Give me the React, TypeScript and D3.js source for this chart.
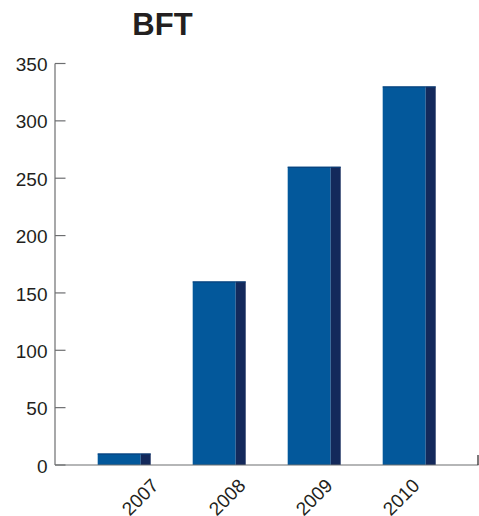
import React from "react";
import * as d3 from "d3";

const years = ["2007", "2008", "2009", "2010"];
const values = [10, 160, 260, 330];
const yTicks = [0, 50, 100, 150, 200, 250, 300, 350];
const title = "BFT";

const W = 479;
const H = 516;
const FONT = "'Liberation Sans', Arial, Helvetica, sans-serif";
const FRONT = "#03589b";
const SIDE = "#13295b";
const AXIS = "#6d6e70";
const TEXT = "#231f20";

export default function App() {
  const y = d3.scaleLinear().domain([0, 350]).range([465, 63.5]);
  const x = d3
    .scaleBand<string>()
    .domain(years)
    .range([76.7, 456.7])
    .paddingInner(0.442)
    .paddingOuter(0.221);
  const labelX = d3.scalePoint<string>().domain(years).range([140, 401]);
  const bw = x.bandwidth();
  const sideW = 10;
  const frontW = bw - sideW;

  return (
    <svg
      width={W}
      height={H}
      style={{ position: "absolute", left: 0, top: 0, background: "#fff" }}
      fontFamily={FONT}
    >
      <text
        x={162.5}
        y={35}
        textAnchor="middle"
        fontSize={31}
        fontWeight="bold"
        fill={TEXT}
      >
        {title}
      </text>

      {/* bars: front face plus darker side face */}
      {years.map((yr, i) => {
        const x0 = x(yr)!;
        const top = y(values[i]);
        const bottom = y(0);
        return (
          <g key={yr}>
            <rect x={x0} y={top} width={frontW} height={bottom - top} fill={FRONT} />
            <rect x={x0 + frontW} y={top} width={sideW} height={bottom - top} fill={SIDE} />
            <line x1={x0} x2={x0 + bw} y1={top + 0.5} y2={top + 0.5} stroke="#0b3f78" strokeWidth={1} />
          </g>
        );
      })}

      {/* y axis */}
      <line x1={55} x2={55} y1={y(350)} y2={y(0)} stroke={AXIS} strokeWidth={1.2} />
      {yTicks.map((t) => (
        <g key={t}>
          <line x1={55} x2={65.5} y1={y(t)} y2={y(t)} stroke={AXIS} strokeWidth={1.2} />
          <text
            x={47.5}
            y={y(t)}
            dy="0.4em"
            textAnchor="end"
            fontSize={19}
            fill={TEXT}
          >
            {t}
          </text>
        </g>
      ))}

      {/* x axis */}
      <line x1={55} x2={478.5} y1={y(0)} y2={y(0)} stroke={AXIS} strokeWidth={1.2} />
      <line x1={478} x2={478} y1={y(0) - 10} y2={y(0)} stroke={TEXT} strokeWidth={1.2} />
      {years.map((yr) => (
        <text
          key={yr}
          transform={`translate(${labelX(yr)},497) rotate(-45)`}
          textAnchor="middle"
          dy="0.35em"
          fontSize={19}
          fill={TEXT}
        >
          {yr}
        </text>
      ))}
    </svg>
  );
}
